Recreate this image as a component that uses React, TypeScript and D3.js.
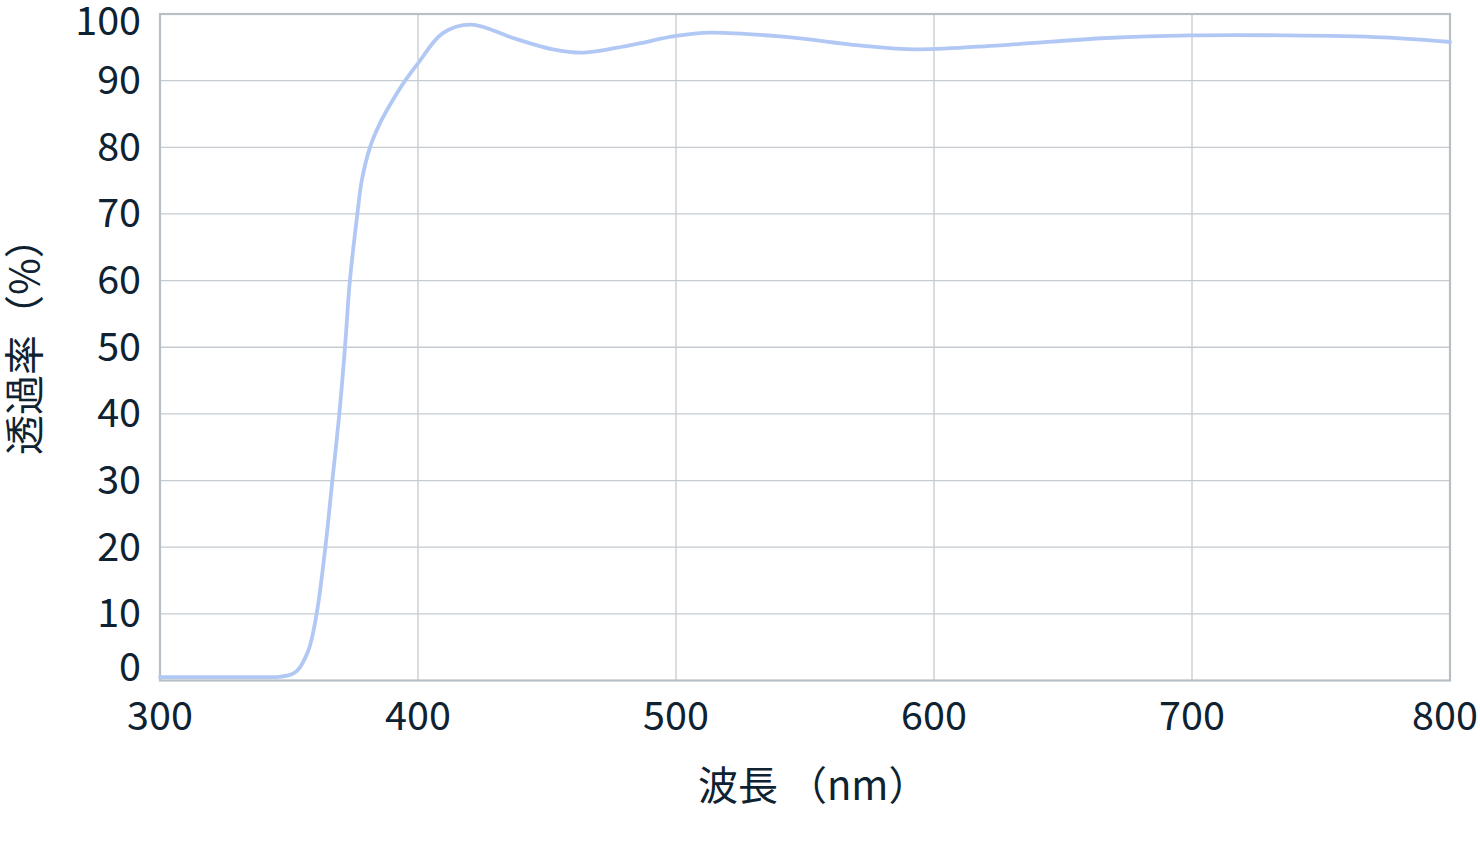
import * as d3 from 'd3';
import { useMemo } from 'react';

// transmittance curve
const wavelength = [300, 320, 340, 346, 350, 353, 357.5, 360.7, 364.1, 366.8, 369.5, 371.7, 373.6, 376.5, 378.2, 381.4, 385, 389.5, 395, 400, 409.5, 420.5, 437.6, 452.3, 464.3, 482, 500, 513, 541.5, 571, 593, 625.6, 667, 700, 735, 774, 800];
const transmittance = [0.5, 0.5, 0.5, 0.55, 0.8, 1.4, 4.5, 10, 20, 30, 40, 50, 60, 70, 75, 80, 83.4, 86.6, 90, 92.6, 97.1, 98.4, 96.3, 94.7, 94.2, 95.3, 96.7, 97.2, 96.6, 95.3, 94.7, 95.3, 96.4, 96.8, 96.8, 96.5, 95.8];

const xTicks = [300, 400, 500, 600, 700, 800];
const yTicks = [0, 10, 20, 30, 40, 50, 60, 70, 80, 90, 100];

const WIDTH = 1480;
const HEIGHT = 844;
const PLOT = { left: 160, right: 1450, top: 14, bottom: 680.5 };
const FONT = '"Noto Sans CJK JP", "Noto Sans", sans-serif';
const TEXT = '#0e2232';

export default function App() {
  const xScale = useMemo(() => d3.scaleLinear().domain([300, 800]).range([PLOT.left, PLOT.right]), []);
  const yScale = useMemo(() => d3.scaleLinear().domain([0, 100]).range([PLOT.bottom, PLOT.top]), []);

  const path = useMemo(() => {
    const pts = wavelength.map((w, i) => [w, transmittance[i]] as [number, number]);
    return d3.line<[number, number]>()
      .x(d => xScale(d[0]))
      .y(d => yScale(d[1]))
      .curve(d3.curveCatmullRom.alpha(0.5))(pts);
  }, [xScale, yScale]);

  return (
    <svg width={WIDTH} height={HEIGHT} style={{ position: 'absolute', left: 0, top: 0, background: '#fff' }}>
      {/* grid */}
      {xTicks.slice(1, -1).map(t => (
        <line key={`gx-${t}`} x1={xScale(t)} x2={xScale(t)} y1={PLOT.top} y2={PLOT.bottom} stroke="#c5cbd0" strokeWidth={1.3} />
      ))}
      {yTicks.slice(1, -1).map(t => (
        <line key={`gy-${t}`} x1={PLOT.left} x2={PLOT.right} y1={yScale(t)} y2={yScale(t)} stroke="#c5cbd0" strokeWidth={1.3} />
      ))}
      <rect x={PLOT.left} y={PLOT.top} width={PLOT.right - PLOT.left} height={PLOT.bottom - PLOT.top}
        fill="none" stroke="#b8bfc4" strokeWidth={2.2} />

      <path d={path || ''} fill="none" stroke="#b2c8f4" strokeWidth={3.8} strokeLinejoin="round" strokeLinecap="round" />

      {/* y tick labels */}
      {yTicks.map(t => {
        const shift = t === 100 ? 7.5 : t === 0 ? -13 : 0;
        return (
          <text key={`ty-${t}`} x={141} y={yScale(t) + shift - 4} textAnchor="end" dominantBaseline="central"
            fontFamily={FONT} fontSize={39.5} fill={TEXT}>{t}</text>
        );
      })}
      {/* x tick labels */}
      {xTicks.map(t => (
        <text key={`tx-${t}`} x={xScale(t) + (t === 800 ? -5 : 0)} y={730} textAnchor="middle"
          fontFamily={FONT} fontSize={39.5} fill={TEXT}>{t}</text>
      ))}

      <text x={698} y={800} fontFamily={FONT} fontSize={40} fill={TEXT}>波長 （nm）</text>
      <text transform="translate(22,455) rotate(-90)" dominantBaseline="central"
        fontFamily={FONT} fontSize={40} fill={TEXT}>透過率（%）</text>
    </svg>
  );
}
